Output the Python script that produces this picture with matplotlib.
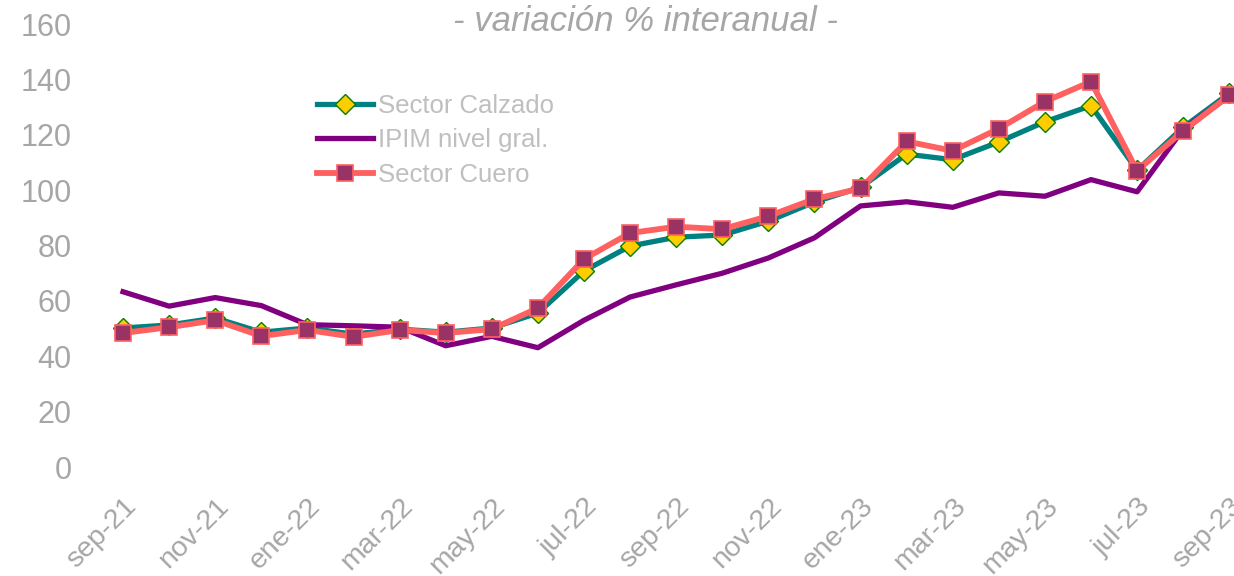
import matplotlib.pyplot as plt
import numpy as np

plt.rcParams['font.family'] = ['Liberation Sans', 'DejaVu Sans']

# meses sep-21 .. sep-23
meses = ["sep-21", "oct-21", "nov-21", "dic-21", "ene-22", "feb-22", "mar-22", "abr-22",
         "may-22", "jun-22", "jul-22", "ago-22", "sep-22", "oct-22", "nov-22", "dic-22",
         "ene-23", "feb-23", "mar-23", "abr-23", "may-23", "jun-23", "jul-23", "ago-23", "sep-23"]

calzado = [50.2, 51.3, 53.8, 48.7, 50.2, 48.0, 49.8, 48.7, 50.2, 55.6, 70.8, 79.8, 83.0,
           83.8, 88.8, 95.7, 101.0, 113.0, 111.0, 117.4, 124.7, 130.5, 107.2, 122.7, 135.0]
ipim = [63.3, 58.1, 61.2, 58.3, 51.4, 51.0, 50.5, 43.8, 47.2, 43.1, 53.0, 61.4, 65.8,
        70.0, 75.5, 82.8, 94.3, 95.8, 93.8, 99.0, 97.8, 103.8, 99.4, 122.0, 134.0]
cuero = [48.4, 50.5, 53.0, 47.3, 49.5, 47.0, 49.5, 48.4, 49.8, 57.4, 75.1, 84.5, 86.8,
         85.9, 90.6, 96.8, 100.6, 117.6, 114.2, 122.2, 132.0, 139.2, 107.0, 121.4, 134.2]

x = np.arange(len(meses))
gris = "#a6a6a6"

fig = plt.figure(figsize=(12.34, 5.76), dpi=100)
ax = fig.add_axes([0.0997, 0.1892, 0.8965, 0.7691])

ax.plot(x, calzado, color="#008080", lw=3.8, marker="D", ms=10.5,
        mfc="#ffcc00", mec="#008000", mew=1.0, label="Sector Calzado", clip_on=False)
ax.plot(x, ipim, color="#800080", lw=3.8, label="IPIM nivel gral.", clip_on=False)
ax.plot(x, cuero, color="#ff6060", lw=4.2, marker="s", ms=11,
        mfc="#993366", mec="#ff6060", mew=1.2, label="Sector Cuero", clip_on=False)

ax.set_xlim(0, len(meses) - 1)
ax.set_ylim(0, 160)
ax.set_yticks(range(0, 161, 20))
ax.set_xticks(x[::2])
ax.set_xticklabels(meses[::2], rotation=45, ha="right", rotation_mode="anchor",
                   color=gris, fontsize=20.5)
for lab in ax.get_yticklabels():
    lab.set_color(gris)
    lab.set_fontsize(22)
ax.tick_params(axis="y", length=0, pad=37)
ax.tick_params(axis="x", length=0, pad=19)
for s in ax.spines.values():
    s.set_visible(False)

fig.text(0.523, 0.962, "- variación % interanual -", ha="center", va="center",
         fontsize=25, style="italic", color=gris)

leg = ax.legend(loc="upper left", bbox_to_anchor=(0.175, 0.843), frameon=False,
                handlelength=2.2, handletextpad=0.2, labelspacing=0.42,
                borderaxespad=0, borderpad=0, prop={"size": 18.5})
for t in leg.get_texts():
    t.set_color("#bfbfbf")

fig.savefig("out.png", dpi=100)
